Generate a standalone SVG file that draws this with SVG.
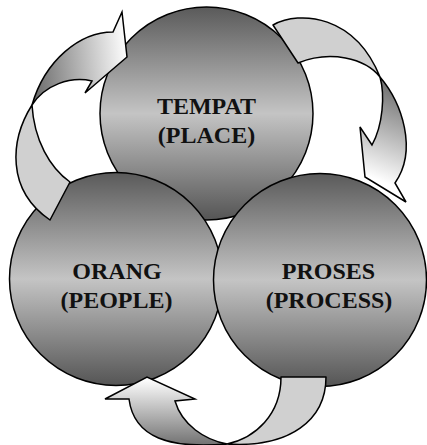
<svg xmlns="http://www.w3.org/2000/svg" width="427" height="445" viewBox="0 0 427 445">
  <defs>
    <!-- circle shading: dark top and bottom, light band across the middle -->
    <linearGradient id="ballShade" x1="0" y1="0" x2="0" y2="1">
      <stop offset="0" stop-color="#5a5a5a"/>
      <stop offset="0.5" stop-color="#c4c4c4"/>
      <stop offset="1" stop-color="#555555"/>
    </linearGradient>
    <!-- front faces of the three curved arrows -->
    <linearGradient id="frontTopLeft" gradientUnits="userSpaceOnUse" x1="32" y1="60" x2="125" y2="50">
      <stop offset="0" stop-color="#6e6e6e"/>
      <stop offset="1" stop-color="#fbfbfb"/>
    </linearGradient>
    <linearGradient id="frontRight" gradientUnits="userSpaceOnUse" x1="405" y1="95" x2="372" y2="178">
      <stop offset="0" stop-color="#777777"/>
      <stop offset="1" stop-color="#ffffff"/>
    </linearGradient>
    <linearGradient id="frontBottom" gradientUnits="userSpaceOnUse" x1="0" y1="380" x2="0" y2="446">
      <stop offset="0" stop-color="#fcfcfc"/>
      <stop offset="1" stop-color="#707070"/>
    </linearGradient>
  </defs>
  <style>
    .ball { fill: url(#ballShade); stroke: #000; stroke-width: 1.5; }
    .label { font-family: "Liberation Serif", "Times New Roman", serif; font-weight: bold; font-size: 24px; fill: #111; text-anchor: middle; }
    .back { fill: #d0d0d0; stroke: #000; stroke-width: 1.5; stroke-linejoin: round; }
    .front { stroke: #000; stroke-width: 1.5; stroke-linejoin: miter; }
  </style>

  <g id="tempat">
    <circle class="ball" cx="206.5" cy="113.5" r="106.5"/>
    <text class="label" x="206.5" y="114">TEMPAT</text>
    <text class="label" x="206.5" y="142.5">(PLACE)</text>
  </g>

  <g id="orang">
    <circle class="ball" cx="116" cy="279" r="106.5"/>
    <text class="label" x="117" y="279">ORANG</text>
    <text class="label" x="116.5" y="307.5">(PEOPLE)</text>
  </g>

  <g id="proses">
    <circle class="ball" cx="320" cy="280" r="106.5"/>
    <text class="label" x="328.5" y="279">PROSES</text>
    <text class="label" x="329" y="307.5">(PROCESS)</text>
  </g>

  <g id="connectors">
    <!-- ORANG to TEMPAT -->
    <path class="back" d="M32,105 C10,140 6,190 50,220 L70,182 C50,168 34,140 32,105 Z"/>
    <path class="front" fill="url(#frontTopLeft)" d="M32,105 C45,60 80,32 113,32 L122,12 L127,57 L85,93 L92,81 C70,76 45,85 32,105 Z"/>

    <!-- TEMPAT to PROSES -->
    <path class="back" d="M380,77 C355,15 300,10 273,25 L298,63 C330,50 365,58 380,77 Z"/>
    <path class="front" fill="url(#frontRight)" d="M380,77 C402,103 418,150 395,183 L406,202 L365,177 L360,127 L372,145 C383,125 385,95 380,77 Z"/>

    <!-- PROSES to ORANG -->
    <path class="back" d="M227,444 C255,438 281,415 281,377 L326,377 C326,420 290,448 227,444 Z"/>
    <path class="front" fill="url(#frontBottom)" d="M227,444 C170,449 134,438 129,399 L105,399 L147,377 L195,399 L175,401 C182,425 205,440 227,444 Z"/>
  </g>
</svg>
